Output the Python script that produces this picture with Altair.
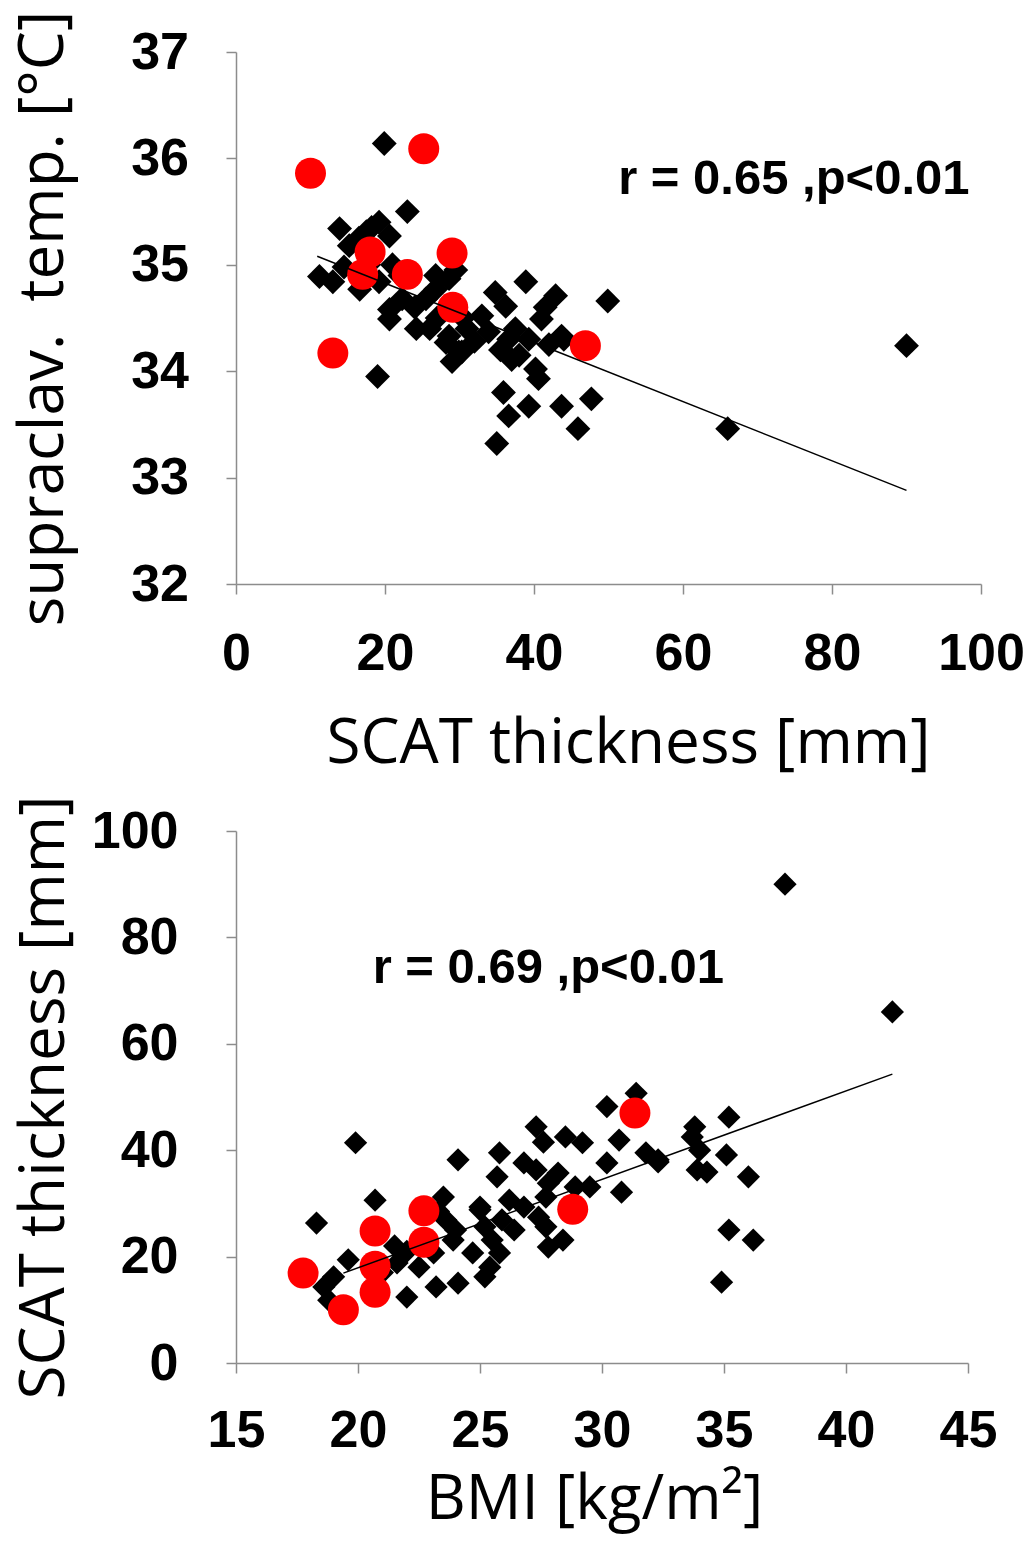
import altair as alt
import pandas as pd

# ---------- Panel A: SCAT thickness vs supraclavicular temperature ----------
a_black_x = [19.9, 23.0, 13.9, 19.2, 20.6, 15.2, 17.5, 16.5, 18.2,
             11.2, 13.0, 16.6, 19.2, 14.5, 17.8,
             20.6, 20.6, 22.3, 24.2, 25.5, 26.8, 28.6, 28.2, 29.9, 27.0, 31.0, 32.0,
             38.9, 49.9, 34.8, 36.2, 42.9, 41.0, 43.7, 33.0, 33.9, 36.6, 39.3, 37.0,
             40.2, 40.6, 28.6, 29.0, 30.3, 35.9, 39.3, 36.6, 43.7, 47.7, 45.9, 35.0,
             19.0, 90.0, 66.0,
             35.5, 38.0, 41.5, 42.0, 44.0, 37.5, 22.0, 24.0, 26.0, 30.5, 21.0, 29.5, 26.8]
a_black_y = [36.14, 35.50, 35.34, 35.40, 35.27, 35.18, 35.31, 35.25, 35.35,
             34.89, 34.84, 34.77, 34.84, 34.98, 35.00,
             34.58, 34.49, 34.68, 34.40, 34.68, 34.77, 34.87, 34.27, 34.18, 34.50, 34.40, 34.28,
             34.84, 34.66, 34.74, 34.61, 34.71, 34.49, 34.33, 34.52, 34.37, 34.30, 34.30, 34.11,
             34.02, 33.93, 34.33, 34.09, 34.18, 33.80, 33.67, 33.58, 33.67, 33.74, 33.46, 33.32,
             33.95, 34.24, 33.46,
             34.20, 34.15, 34.60, 34.25, 34.30, 34.40, 34.90, 34.60, 34.40, 34.50, 35.00, 34.95, 34.90]
a_red_x = [10.0, 25.2, 18.0, 17.0, 23.0, 29.0, 29.1, 13.0, 46.9]
a_red_y = [35.86, 36.09, 35.12, 34.91, 34.91, 35.11, 34.60, 34.17, 34.24]
a_fit_x = [10.9, 90.0]
a_fit_y = [35.08, 32.88]
a_note = "r = 0.65 ,p<0.01"
a_note_x, a_note_y = 51.3, 35.81

# ---------- Panel B: BMI vs SCAT thickness ----------
b_black_x = [19.9, 24.1, 20.7, 18.3, 19.0, 18.6, 19.6, 22.0, 23.2, 24.1, 23.5, 23.6, 23.9,
             23.1, 22.5, 24.7, 21.6, 25.0, 18.8, 21.0, 22.0, 24.0, 23.3, 21.5,
             31.4, 30.2, 30.7, 31.8, 32.3, 30.2, 30.8, 27.3, 28.5, 29.2, 27.6, 25.8, 25.7,
             26.8, 27.3, 28.2, 27.8, 28.9, 29.5, 27.7, 26.2, 25.0, 26.8, 25.9, 25.2, 26.4,
             27.4, 25.5, 25.8, 25.4, 25.2, 27.8, 28.4, 27.7,
             35.2, 33.8, 33.7, 32.3, 34.0, 35.1, 33.9, 34.3, 36.0, 35.2, 36.2, 34.9, 37.5, 41.9]
b_black_y = [41.4, 38.2, 30.6, 26.3, 16.2, 14.3, 19.4, 12.4, 14.3, 15.0, 31.2, 26.9, 23.1,
             20.7, 18.0, 20.7, 18.8, 28.8, 11.8, 17.0, 21.0, 25.0, 28.5, 22.0,
             50.7, 48.2, 41.9, 39.5, 37.8, 37.6, 32.1, 44.4, 42.5, 41.4, 41.5, 39.5, 35.0,
             37.6, 36.3, 35.7, 33.8, 33.1, 33.1, 31.2, 30.6, 29.3, 29.3, 26.9, 25.6, 25.0,
             27.4, 23.1, 20.7, 18.0, 16.2, 21.8, 23.1, 25.6,
             46.2, 44.4, 42.5, 38.2, 40.0, 39.1, 36.3, 35.9, 35.0, 25.0, 23.1, 15.2, 90.0, 66.0]
b_red_x = [17.75, 19.4, 20.7, 20.7, 20.7, 22.7, 22.7, 28.8, 31.35]
b_red_y = [16.9, 10.0, 24.8, 18.2, 13.3, 28.6, 22.7, 28.9, 47.0]
b_fit_x = [19.4, 41.9]
b_fit_y = [16.9, 54.3]
b_note = "r = 0.69 ,p<0.01"
b_note_x, b_note_y = 20.6, 74.2

LABEL_FONT = "Liberation Sans"
TITLE_FONT = "Open Sans"


def panel(bx, by, rx, ry, fx, fy, note, nx, ny, xdom, xstep, ydom, ystep,
          xtitle, ytitle, w, h, dsize, xlabpad, xtitlepad, xtitlex, ylabpad, ytitlex):
    xs = alt.Scale(domain=xdom, nice=False, zero=False)
    ys = alt.Scale(domain=ydom, nice=False, zero=False)
    xax = alt.Axis(values=list(range(xdom[0], xdom[1] + 1, xstep)), title=xtitle,
                   format="d", labelFlush=False, labelOverlap=False,
                   labelPadding=xlabpad, titlePadding=xtitlepad, titleX=xtitlex)
    yax = alt.Axis(values=list(range(ydom[0], ydom[1] + 1, ystep)), title=ytitle,
                   format="d", labelFlush=False, labelOverlap=False,
                   labelPadding=ylabpad, titleX=ytitlex, titleBaseline="alphabetic")
    black = alt.Chart(pd.DataFrame({"x": bx, "y": by})).mark_point(
        shape="diamond", filled=True, color="#000000", opacity=1, size=dsize
    ).encode(x=alt.X("x:Q", scale=xs, axis=xax), y=alt.Y("y:Q", scale=ys, axis=yax))
    red = alt.Chart(pd.DataFrame({"x": rx, "y": ry})).mark_circle(
        color="#FF0000", opacity=1, size=960
    ).encode(x=alt.X("x:Q", scale=xs), y=alt.Y("y:Q", scale=ys))
    fit = alt.Chart(pd.DataFrame({"x": fx, "y": fy})).mark_line(
        color="#000000", strokeWidth=1.5
    ).encode(x=alt.X("x:Q", scale=xs), y=alt.Y("y:Q", scale=ys))
    txt = alt.Chart(pd.DataFrame({"x": [nx], "y": [ny], "t": [note]})).mark_text(
        font=LABEL_FONT, fontWeight="bold", fontSize=49, align="left",
        baseline="middle", color="#000000"
    ).encode(x=alt.X("x:Q", scale=xs), y=alt.Y("y:Q", scale=ys), text="t:N")
    return alt.layer(black, red, fit, txt).properties(width=w, height=h)


top = panel(a_black_x, a_black_y, a_red_x, a_red_y, a_fit_x, a_fit_y,
            a_note, a_note_x, a_note_y, [0, 100], 20, [32, 37], 1,
            "SCAT thickness [mm]", "supraclav.\u00a0 temp. [°C]", 745, 532, 620,
            34, 34, 392, 37.5, -174)
bottom = panel(b_black_x, b_black_y, b_red_x, b_red_y, b_fit_x, b_fit_y,
               b_note, b_note_x, b_note_y, [15, 45], 5, [0, 100], 20,
               "BMI [kg/m²]", "SCAT thickness [mm]", 732, 532, 540,
               32, 13, 358, 48, -173)

chart = alt.vconcat(top, bottom, spacing=21).properties(
    padding={"left": 3, "top": 2, "right": 0, "bottom": 5}
).configure_view(stroke=None).configure_axis(
    grid=False,
    domainColor="#8c8c8c", domainWidth=1.5,
    tickColor="#8c8c8c", tickWidth=1.5, tickSize=10,
    labelFont=LABEL_FONT, labelFontWeight="bold", labelFontSize=52, labelColor="#000000",
    titleFont=TITLE_FONT, titleFontWeight="normal", titleFontSize=62, titleColor="#000000",
)

chart.save("out.html", embed_options={"renderer": "svg", "actions": False})
